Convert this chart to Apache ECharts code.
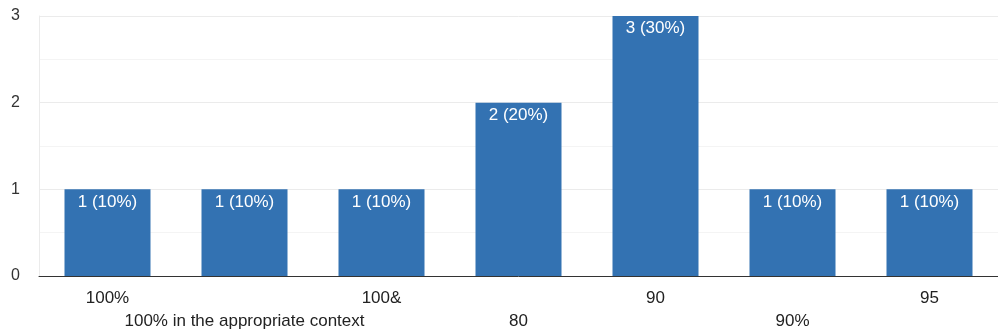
<!DOCTYPE html>
<html>
<head>
<meta charset="utf-8">
<script src="https://cdn.jsdelivr.net/npm/echarts@6/dist/echarts.min.js"></script>
<style>
  html, body { margin: 0; padding: 0; background: #fff; }
  #chart { width: 998px; height: 333px; }
</style>
</head>
<body>
<div id="chart"></div>
<script>
// Responses per answer
const categories = ['100%', '100% in the appropriate context', '100&', '80', '90', '90%', '95'];
const counts = [1, 1, 1, 2, 3, 1, 1];
const percents = [10, 10, 10, 20, 30, 10, 10];
const yTicks = [0, 1, 2, 3];

const FONT = '"Liberation Sans", Arial, sans-serif';

const chart = echarts.init(document.getElementById('chart'));
chart.setOption({
  animation: false,
  grid: { left: 39, right: 0, top: 16, bottom: 56, containLabel: false },
  xAxis: {
    type: 'category',
    data: categories,
    axisLine: { lineStyle: { color: '#333', width: 1 } },
    axisTick: { show: false },
    axisLabel: {
      interval: 0,
      color: '#222',
      fontFamily: FONT,
      fontSize: 17,
      margin: 11,
      lineHeight: 23,
      formatter: (v, i) => (i % 2 ? '\n' + v : v)
    }
  },
  yAxis: {
    type: 'value',
    min: yTicks[0],
    max: yTicks[yTicks.length - 1],
    interval: 1,
    axisLine: { show: true, lineStyle: { color: '#ebebeb', width: 1 } },
    axisTick: { show: false },
    axisLabel: {
      color: '#333',
      fontFamily: FONT,
      fontSize: 16,
      margin: 19
    },
    splitLine: { lineStyle: { color: '#ebebeb', width: 1 } },
    minorTick: { show: false, splitNumber: 2 },
    minorSplitLine: { show: true, lineStyle: { color: '#f4f4f4', width: 1 } }
  },
  series: [{
    type: 'bar',
    data: counts,
    barWidth: 86,
    itemStyle: { color: '#3372b2' },
    label: {
      show: true,
      position: 'insideTop',
      distance: 4,
      color: '#fff',
      fontFamily: FONT,
      fontSize: 17,
      formatter: p => counts[p.dataIndex] + ' (' + percents[p.dataIndex] + '%)'
    }
  }]
});
</script>
</body>
</html>
